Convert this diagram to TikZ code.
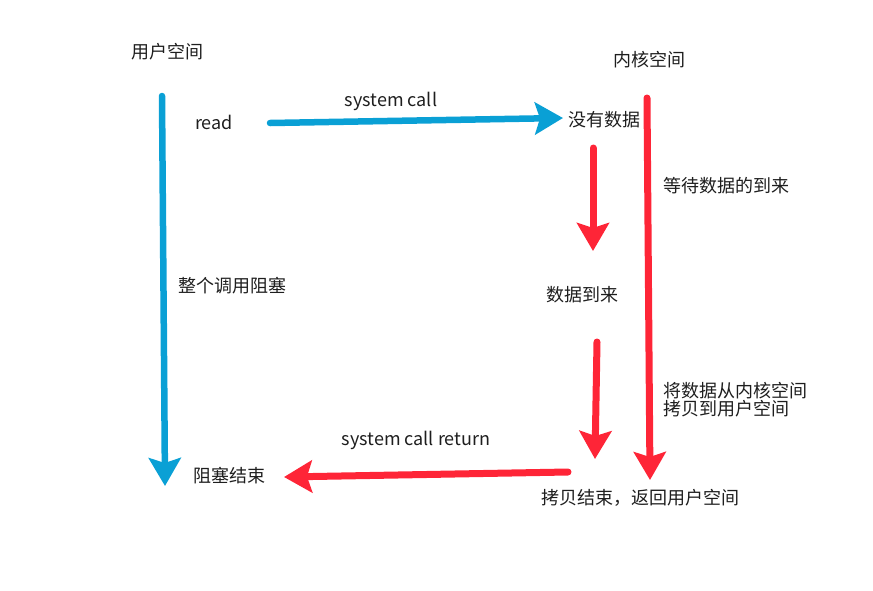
\documentclass[tikz,border=0pt]{standalone}
\usepackage{fontspec}
\setmainfont{Noto Sans CJK SC}
\usetikzlibrary{arrows.meta}
\definecolor{callblue}{HTML}{0AA0D5}
\definecolor{copyred}{HTML}{FE2537}
\definecolor{txt}{HTML}{1E1E1E}
\tikzset{
  lbl/.style={text=txt,font=\fontsize{18}{20}\selectfont,inner sep=0pt},
  bluearr/.style={draw=callblue,line width=6.5pt,line cap=round,
    -{Stealth[length=28pt,width=32pt,inset=5pt]}},
  redarr/.style={draw=copyred,line width=7pt,line cap=round,
    -{Stealth[length=28pt,width=32pt,inset=5pt]}},
}
\begin{document}
\begin{tikzpicture}[x=1pt,y=-1pt]
    \useasboundingbox (0,0) rectangle (873,590);
    % texts
    \node[lbl] (user) at (167,52) {用户空间};
    \node[lbl] (kernel) at (649,60) {内核空间};
    \node[lbl] (read) at (214,122) {read};
    \node[lbl] (syscall) at (391,101) {system call};
    \node[lbl] (nodata) at (604,120) {没有数据};
    \node[lbl] (wait) at (726,186) {等待数据的到来};
    \node[lbl] (block) at (232,286) {整个调用阻塞};
    \node[lbl] (arrive) at (582,295) {数据到来};
    \node[lbl,align=left,anchor=west] (copy) at (663,400) {将数据从内核空间\\[-2pt]拷贝到用户空间};
    \node[lbl] (sysret) at (416,440) {system call return};
    \node[lbl] (unblock) at (229,476) {阻塞结束};
    \node[lbl] (done) at (640,498) {拷贝结束，返回用户空间};
    % arrow ends
    \coordinate (b1s) at (162,96);
    \coordinate (b1e) at (165,486);
    \coordinate (b2s) at (270,123);
    \coordinate (b2e) at (563,118);
    \coordinate (r1s) at (593,148);
    \coordinate (r1e) at (593,251);
    \coordinate (r2s) at (647,98);
    \coordinate (r2e) at (650,480);
    \coordinate (r3s) at (597,342);
    \coordinate (r3e) at (595,459);
    \coordinate (r4s) at (568,472);
    \coordinate (r4e) at (284,477);
    % arrows
    \draw[bluearr] (b1s) -- (b1e);
    \draw[bluearr] (b2s) -- (b2e);
    \draw[redarr] (r1s) -- (r1e);
    \draw[redarr] (r2s) -- (r2e);
    \draw[redarr] (r3s) -- (r3e);
    \draw[redarr] (r4s) -- (r4e);
\end{tikzpicture}
\end{document}
